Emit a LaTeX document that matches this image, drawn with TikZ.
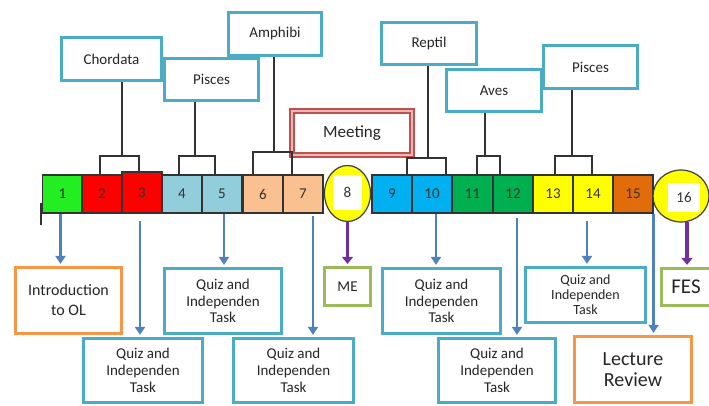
\documentclass[tikz,border=0pt]{standalone}
\usepackage{fontspec}
\setmainfont{Carlito}
\usetikzlibrary{arrows.meta,shapes.geometric}
\definecolor{boxblue}{HTML}{4BACC6}
\definecolor{boxorange}{HTML}{F79646}
\definecolor{boxgreen}{HTML}{9BBB59}
\definecolor{arrowblue}{HTML}{4F81BD}
\definecolor{arrowpurple}{HTML}{7030A0}
\definecolor{meetred}{HTML}{C0504D}
\definecolor{meetpink}{HTML}{E6B8B7}
\definecolor{wkgreen}{HTML}{22EE22}
\definecolor{wkred}{HTML}{FF0000}
\definecolor{wklblue}{HTML}{92CDDC}
\definecolor{wkpeach}{HTML}{FAC090}
\definecolor{wkcyan}{HTML}{00B0F0}
\definecolor{wkdgreen}{HTML}{00B050}
\definecolor{wkyellow}{HTML}{FFFF00}
\definecolor{wkorange}{HTML}{E26B0A}
\tikzset{
  week/.style={draw=black!80, line width=1.1pt, minimum width=40pt, minimum height=38pt,
    inner sep=0pt, text=black!80, font=\fontsize{15}{17}\selectfont},
  exam/.style={ellipse, draw=black!75, line width=1.2pt, fill=wkyellow, inner sep=0pt},
  examno/.style={fill=white, inner sep=0pt, text=black!80, font=\fontsize{15}{17}\selectfont},
  topic/.style={draw=boxblue, line width=2.8pt, fill=white, inner sep=0pt,
    text=black!85, font=\fontsize{15}{17}\selectfont},
  task/.style={draw=boxblue, line width=2.8pt, fill=white, inner sep=0pt, align=center,
    text=black!85, font=\fontsize{15}{16.7}\selectfont},
  talk/.style={task, draw=boxorange},
  test/.style={task, draw=boxgreen},
  meet/.style={draw=meetred, line width=2.2pt, double=meetpink, double distance=1.4pt,
    fill=white, inner sep=0pt, text=black!85, font=\fontsize{17}{19}\selectfont},
  link/.style={draw=black!80, line width=1.2pt},
  flow/.style={draw=arrowblue, line width=2.4pt, shorten >=2pt,
    -{Triangle[width=10pt,length=8pt]}},
  exflow/.style={draw=arrowpurple, line width=3.8pt, shorten >=2pt,
    -{Triangle[width=11pt,length=7pt]}}
}
\begin{document}
\begin{tikzpicture}[x=1pt,y=-1pt]
  \useasboundingbox (0,0) rectangle (709,406);
  \draw
    (62.5,194) node[week, fill=wkgreen] (c1){1}
    (102,194) node[week, fill=wkred] (c2){2}
    (142,192.5) node[week, fill=wkred, minimum height=41pt] (c3){3}
    (182,194) node[week, fill=wklblue] (c4){4}
    (222,194) node[week, fill=wklblue] (c5){5}
    (263,194) node[week, fill=wkpeach] (c6){6}
    (303,194) node[week, fill=wkpeach] (c7){7}
    (392,194) node[week, fill=wkcyan] (c9){9}
    (432,194) node[week, fill=wkcyan] (c10){10}
    (472.5,194) node[week, fill=wkdgreen] (c11){11}
    (513,194) node[week, fill=wkdgreen] (c12){12}
    (553,194) node[week, fill=wkyellow] (c13){13}
    (593,194) node[week, fill=wkyellow] (c14){14}
    (633,194) node[week, fill=wkorange] (c15){15};
  \node[exam, minimum width=46pt, minimum height=56pt] (c8) at (347.5,193.5) {};
  \node[examno, minimum width=29pt, minimum height=35pt] (n8) at (347.5,192.5) {8};
  \node[exam, minimum width=56pt, minimum height=52pt] (c16) at (681,196) {};
  \node[examno, minimum width=32pt, minimum height=29pt] (n16) at (684,197.5) {16};
  \draw[link] ([xshift=-1pt]c1.south west) ++(0,11) -- ++(0,-22);
  \coordinate (b1) at (122,156);
  \coordinate (b2) at (195,156);
  \coordinate (b3) at (274,152);
  \coordinate (b4) at (428,158);
  \coordinate (b5) at (485,156);
  \coordinate (b6) at (572,156);
  \node[topic, minimum width=100pt, minimum height=43pt] (chord) at (111.5,59) {Chordata};
  \node[topic, minimum width=94pt, minimum height=42pt] (pis1) at (211.5,79.5) {Pisces};
  \node[topic, minimum width=93pt, minimum height=43pt] (amph) at (275,34) {Amphibi};
  \node[meet, minimum width=120pt, minimum height=44pt] (meet) at (352,133) {Meeting};
  \node[topic, minimum width=95pt, minimum height=42pt] (rept) at (429,43.5) {Reptil};
  \node[topic, minimum width=95pt, minimum height=42pt] (aves) at (494,90.5) {Aves};
  \node[topic, minimum width=94pt, minimum height=43pt] (pis2) at (590.5,67) {Pisces};
  \begin{scope}[link]
    \draw (b1) -- (chord.south -| b1);
    \draw ([xshift=-2pt]c2.north) |- (b1) -| ([xshift=-3pt]c3.north);
    \draw (b2) -- (pis1.south -| b2);
    \draw ([xshift=-3pt]c4.north) |- (b2) -| ([xshift=-7pt]c5.north);
    \draw (b3) -- (amph.south -| b3);
    \draw ([xshift=-10pt]c6.north) |- (b3) -| ([xshift=-11pt]c7.north);
    \draw (b4) -- (rept.south -| b4);
    \draw ([xshift=15pt]c9.north) |- (b4) -| ([xshift=14pt]c10.north);
    \draw (b5) -- (aves.south -| b5);
    \draw ([xshift=4.5pt]c11.north) |- (b5) -| ([xshift=-13pt]c12.north);
    \draw (b6) -- (pis2.south -| b6);
    \draw ([xshift=2pt]c13.north) |- (b6) -| ([xshift=-1pt]c14.north);
  \end{scope}
  \node[talk, minimum width=106.5pt, minimum height=66.5pt,
    font=\fontsize{16}{20}\selectfont] (intro) at (68.5,300.5) {Introduction\\to OL};
  \node[task, minimum width=117.5pt, minimum height=65.5pt] (q2) at (223,301) {Quiz and\\Independen\\Task};
  \node[task, minimum width=119.5pt, minimum height=64.5pt] (q1) at (143,370.5) {Quiz and\\Independen\\Task};
  \node[task, minimum width=120.5pt, minimum height=64.5pt] (q3) at (293.5,370.5) {Quiz and\\Independen\\Task};
  \node[test, minimum width=46.5pt, minimum height=38.5pt] (me) at (347.5,286.5) {ME};
  \node[task, minimum width=118.5pt, minimum height=65.5pt] (q4) at (441.5,301) {Quiz and\\Independen\\Task};
  \node[task, minimum width=117.5pt, minimum height=64.5pt] (q5) at (497,370.5) {Quiz and\\Independen\\Task};
  \node[task, minimum width=120.5pt, minimum height=55.5pt,
    font=\fontsize{14}{15}\selectfont] (q6) at (585.5,295) {Quiz and\\Independen\\Task};
  \node[talk, minimum width=117.5pt, minimum height=66.5pt,
    font=\fontsize{20}{21}\selectfont] (lec) at (633,369.5) {Lecture\\Review};
  \node[test, minimum width=49.5pt, minimum height=37.5pt,
    font=\fontsize{21}{23}\selectfont] (fes) at (686,287) {FES};
  \begin{scope}[flow]
    \draw ([xshift=-2pt]c1.south) -- ([xshift=-2pt]c1.south |- intro.north);
    \draw ([xshift=-2pt,yshift=-7pt]c3.south) -- ([xshift=-2pt]c3.south |- q1.north);
    \draw ([xshift=2pt]c5.south) -- ([xshift=2pt]c5.south |- q2.north);
    \draw ([xshift=10pt,yshift=-2pt]c7.south) -- ([xshift=10pt]c7.south |- q3.north);
    \draw ([xshift=4pt]c10.south) -- ([xshift=4pt]c10.south |- q4.north);
    \draw ([xshift=4pt,yshift=-4pt]c12.south) -- ([xshift=4pt]c12.south |- q5.north);
    \draw ([xshift=-6pt,yshift=-7pt]c14.south) -- ([xshift=-6pt]c14.south |- q6.north);
    \draw (c15.south east) -- (c15.south east |- lec.north);
  \end{scope}
  \begin{scope}[exflow]
    \draw (c8.south) -- (c8.south |- me.north);
    \draw ([xshift=6pt,yshift=1pt]c16.south) -- ([xshift=6pt]c16.south |- fes.north);
  \end{scope}
\end{tikzpicture}
\end{document}
